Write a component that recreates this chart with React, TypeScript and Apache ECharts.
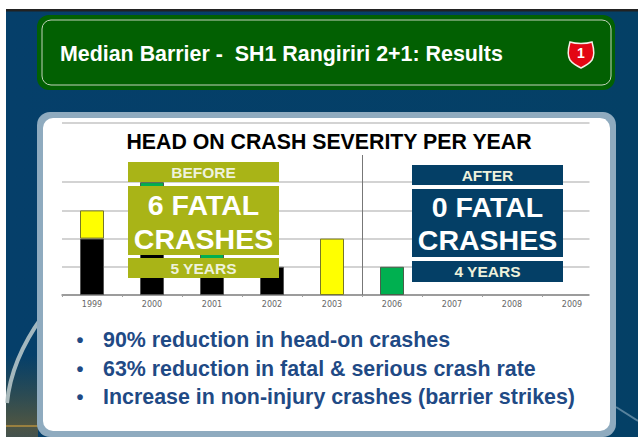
import React, { useEffect, useRef } from "react";
import * as echarts from "echarts";

const years = ["1999", "2000", "2001", "2002", "2003", "2006", "2007", "2008", "2009"];
const fatal = [2, 2, 1, 1, null, null, null, null, null];
const serious = [1, null, null, null, 2, null, null, null, null];
const minor = [null, 2, 1, null, null, 1, null, null, null];
const headline = "Median Barrier -  SH1 Rangiriri 2+1: Results";
const chartTitle = "HEAD ON CRASH SEVERITY PER YEAR";
const beforeTexts = ["BEFORE", "6 FATAL", "CRASHES", "5 YEARS"];
const afterTexts = ["AFTER", "0 FATAL", "CRASHES", "4 YEARS"];
const bullets = [
  "90% reduction in head-on crashes",
  "63% reduction in fatal & serious crash rate",
  "Increase in non-injury crashes (barrier strikes)",
];

const FONT = '"Liberation Sans", Arial, sans-serif';
const OLIVE = "#a9b417";
const NAVY = "#043f66";
const GRID = "#c4c4c4";

echarts.graphic.registerShape(
  "shield",
  echarts.graphic.extendPath(
    "M2 1 C8 3 18 3 24 1 C26 8 27 14 24 19 C21 23 17 25 13 27 C9 25 5 23 2 19 C-1 14 0 8 2 1 Z",
    {}
  )
);

const rect = (x: number, y: number, width: number, height: number, style: any, z: number, r = 0) => ({
  type: "rect",
  z,
  shape: { x, y, width, height, r },
  style,
});

const label = (text: string, x: number, y: number, font: string, fill: string, textAlign = "center", z = 20) => ({
  type: "text",
  z,
  style: { text, x, y, font, fill, textAlign, textVerticalAlign: "middle" },
});

const calloutBoxes = (x: number, ys: number[][], color: string, texts: string[], line1: number, line2: number) => {
  const cx = x + 75.5;
  return [
    rect(x, ys[0][0], 151, ys[0][1], { fill: color }, 15),
    rect(x, ys[1][0], 151, ys[1][1], { fill: color }, 15),
    rect(x, ys[2][0], 151, ys[2][1], { fill: color }, 15),
    label(texts[0], cx, ys[0][0] + 10.5, `bold 15.5px ${FONT}`, "#eef2dc"),
    label(texts[1], cx, ys[1][0] + line1, `bold 28.5px ${FONT}`, "#ffffff"),
    label(texts[2], cx, ys[1][0] + line2, `bold 28.5px ${FONT}`, "#ffffff"),
    label(texts[3], cx, ys[2][0] + 10.5, `bold 15.5px ${FONT}`, "#eef2dc"),
  ];
};

const barSeries = (name: string, data: (number | null)[], color: string, borderColor: string) => ({
  name,
  type: "bar",
  stack: "crashes",
  data,
  barWidth: 24,
  itemStyle: { color, borderColor, borderWidth: 1 },
});

export default function App() {
  const ref = useRef<HTMLDivElement>(null);

  useEffect(() => {
    const chart = echarts.init(ref.current!, null, { renderer: "svg" });
    chart.setOption({
      animation: false,
      backgroundColor: "#ffffff",
      grid: { left: 62, top: 122.4, width: 540, height: 172.6 },
      xAxis: {
        type: "category",
        data: years,
        axisLine: { lineStyle: { color: "#8a8a8a", width: 1.5 } },
        axisTick: { show: true, length: 2, lineStyle: { color: "#a0a0a0" } },
        axisLabel: { fontFamily: "DejaVu Sans", fontSize: 8, color: "#666666", margin: 5 },
      },
      yAxis: {
        type: "value",
        min: 0,
        max: 6.12,
        interval: 1,
        axisLine: { show: false },
        axisTick: { show: false },
        axisLabel: { show: false },
        splitLine: {
          show: true,
          lineStyle: {
            width: 1.5,
            color: [GRID, GRID, GRID, GRID, GRID, "transparent", "transparent", GRID],
          },
        },
      },
      series: [
        barSeries("Fatal", fatal, "#000000", "#555555"),
        barSeries("Serious", serious, "#ffff00", "#77772a"),
        barSeries("Minor", minor, "#00b050", "#4a5f4a"),
      ],
      graphic: {
        elements: [
          // slide background
          rect(0, 0, 638, 437, { fill: "#ffffff" }, -30),
          rect(6, 11, 632, 426, {
            fill: new echarts.graphic.LinearGradient(0, 0, 1, 0, [
              { offset: 0, color: "#053f6a" },
              { offset: 1, color: "#044066" },
            ]),
          }, -29),
          rect(6, 9, 632, 2.5, { fill: "#222222" }, -28),
          rect(6, 355, 32, 82, {
            fill: new echarts.graphic.LinearGradient(0, 0, 0, 1, [
              { offset: 0, color: "rgba(90,90,50,0)" },
              { offset: 0.85, color: "rgba(110,95,50,0.7)" },
              { offset: 1, color: "rgba(110,95,60,0.6)" },
            ]),
          }, -27),
          {
            type: "bezierCurve",
            z: -26,
            shape: { x1: 7, y1: 403, cpx1: 10, cpy1: 372, cpx2: 24, cpy2: 342, x2: 42, y2: 317 },
            style: { stroke: "rgba(190,204,206,0.85)", lineWidth: 4, fill: "none" },
          },
          rect(6, 425, 32, 2, { fill: "#9a8040" }, -26),
          {
            type: "line",
            z: -26,
            shape: { x1: 616, y1: 407, x2: 638, y2: 421 },
            style: { stroke: "rgba(190,210,225,0.45)", lineWidth: 2 },
          },
          // header sign
          rect(37, 15, 578, 75, { fill: "#026002" }, -20, 12),
          rect(42, 20, 569, 65, { fill: "#026002", stroke: "#c3d3bb", lineWidth: 1 }, -19, 9),
          label(headline, 60, 53.5, `bold 21.4px ${FONT}`, "#ffffff", "left", -18),
          {
            type: "shield",
            z: -18,
            x: 568,
            y: 41,
            style: { fill: "#e30613", stroke: "#f4f0e8", lineWidth: 1.5 },
          },
          label("1", 581, 53, `bold 14px ${FONT}`, "#ffffff", "center", -17),
          // white panel
          rect(37, 112, 579, 325, { fill: "#8fabbf" }, -15, 13),
          rect(43, 118, 567, 313, { fill: "#ffffff" }, -14, 10),
          // clip of the axis on the right
          rect(589.5, 119, 16, 178, { fill: "#ffffff" }, 5),
          // chart title
          label(chartTitle, 329, 141.5, `bold 21.3px ${FONT}`, "#000000", "center"),
          // divider
          {
            type: "line",
            z: 6,
            shape: { x1: 362.5, y1: 155, x2: 362.5, y2: 295 },
            style: { stroke: "#777777", lineWidth: 1 },
          },
          ...calloutBoxes(128, [[162, 20], [186, 69], [258, 20]], OLIVE, beforeTexts, 19, 52.5),
          ...calloutBoxes(412, [[165, 20], [189, 68], [261, 21]], NAVY, afterTexts, 18, 51),
          // bullet list
          ...bullets.flatMap((b, i) => {
            const y = 340 + i * 28.5;
            return [
              label("•", 80, y, `bold 20px ${FONT}`, "#1f4a85"),
              label(b, 103, y, `bold 21.4px ${FONT}`, "#1f4a85", "left"),
            ];
          }),
        ],
      },
    });
    return () => chart.dispose();
  }, []);

  return <div ref={ref} style={{ position: "absolute", left: 0, top: 0, width: 638, height: 437 }} />;
}
